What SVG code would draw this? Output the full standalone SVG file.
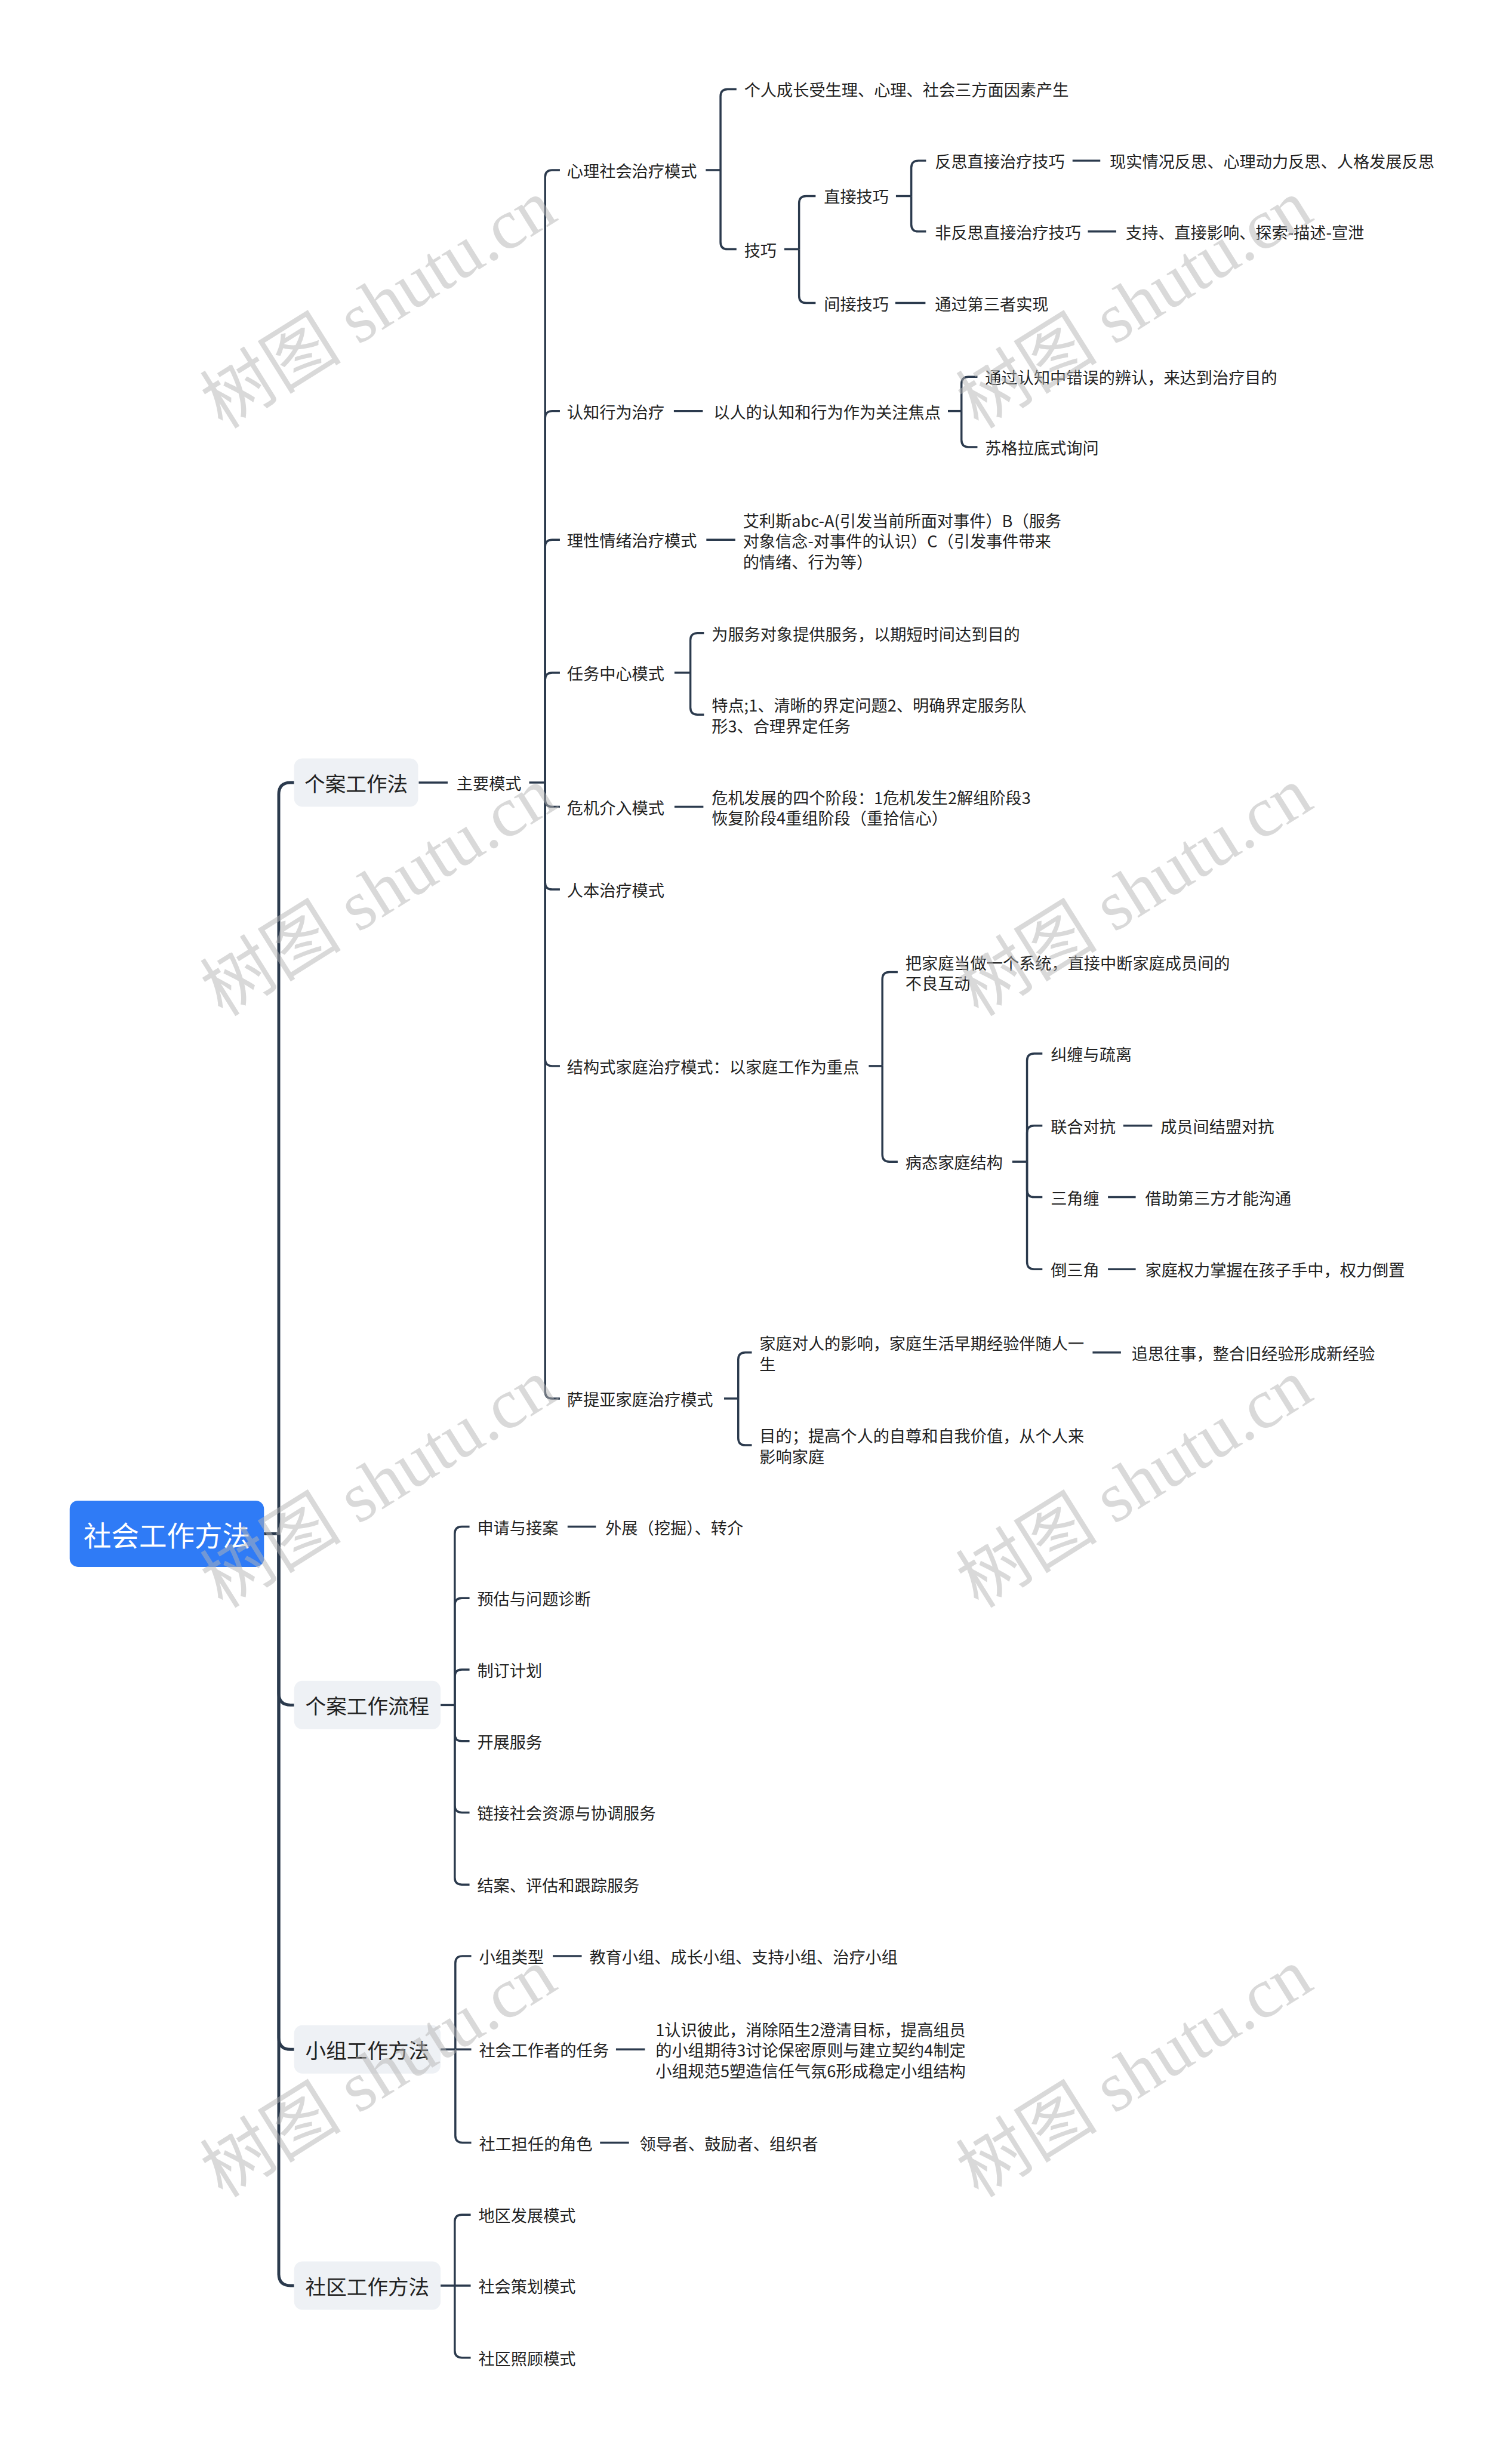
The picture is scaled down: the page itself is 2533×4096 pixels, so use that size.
<svg xmlns="http://www.w3.org/2000/svg" width="2533" height="4096" viewBox="0 0 2533 4096">
<style>
.c{fill:none;stroke:#2b3a4d;stroke-width:3.5}
.tk{fill:none;stroke:#2b3a4d;stroke-width:5}
text,tspan{font-family:"Noto Sans CJK SC","Liberation Sans",sans-serif;dominant-baseline:central}
.t{font-size:27.5px;fill:#222}
.b{font-size:35px;fill:#222;text-anchor:middle}
.r{font-size:47px;fill:#fff;text-anchor:middle}
.box{fill:#eef1f5}
.wm{font-family:"Liberation Serif","Noto Sans CJK SC",serif;font-size:120px;fill:#b5b5b5;opacity:0.5;text-anchor:middle}
</style>
<rect width="2533" height="4096" fill="#fff"/>
<g transform="scale(0.9894)">
<g id="connectors">
<path class="tk" d="M447,2597H472"/>
<path class="tk" d="M472,2597V1345Q472,1325 492,1325H498"/>
<path class="tk" d="M472,2597V2867Q472,2887 492,2887H498"/>
<path class="tk" d="M472,2597V3450Q472,3470 492,3470H498"/>
<path class="tk" d="M472,2597V3850Q472,3870 492,3870H498"/>
<path class="c" d="M709,1325H758"/>
<path class="c" d="M896,1325H923"/>
<path class="c" d="M923,1325V300Q923,288 935,288H948"/>
<path class="c" d="M923,1325V708Q923,696 935,696H948"/>
<path class="c" d="M923,1325V926Q923,914 935,914H948"/>
<path class="c" d="M923,1325V1151Q923,1139 935,1139H948"/>
<path class="c" d="M923,1325V1354Q923,1366 935,1366H948"/>
<path class="c" d="M923,1325V1494Q923,1506 935,1506H948"/>
<path class="c" d="M923,1325V1793Q923,1805 935,1805H948"/>
<path class="c" d="M923,1325V2356Q923,2368 935,2368H948"/>
<path class="c" d="M1195,288H1220"/>
<path class="c" d="M1220,288V163Q1220,151 1232,151H1247"/>
<path class="c" d="M1220,288V410Q1220,422 1232,422H1247"/>
<path class="c" d="M1328,422H1353"/>
<path class="c" d="M1353,422V344Q1353,332 1365,332H1381"/>
<path class="c" d="M1353,422V501Q1353,513 1365,513H1381"/>
<path class="c" d="M1517,332H1543"/>
<path class="c" d="M1543,332V284Q1543,272 1555,272H1568"/>
<path class="c" d="M1543,332V380Q1543,392 1555,392H1568"/>
<path class="c" d="M1816,272H1863"/>
<path class="c" d="M1842,392H1890"/>
<path class="c" d="M1516,513H1567"/>
<path class="c" d="M1141,696H1190"/>
<path class="c" d="M1605,696H1628"/>
<path class="c" d="M1628,696V650Q1628,638 1640,638H1655"/>
<path class="c" d="M1628,696V745Q1628,757 1640,757H1655"/>
<path class="c" d="M1196,914H1245"/>
<path class="c" d="M1142,1139H1169"/>
<path class="c" d="M1169,1139V1084Q1169,1072 1181,1072H1192"/>
<path class="c" d="M1169,1139V1198Q1169,1210 1181,1210H1192"/>
<path class="c" d="M1142,1366H1191"/>
<path class="c" d="M1471,1805H1494"/>
<path class="c" d="M1494,1805V1658Q1494,1646 1506,1646H1520"/>
<path class="c" d="M1494,1805V1955Q1494,1967 1506,1967H1520"/>
<path class="c" d="M1714,1967H1739"/>
<path class="c" d="M1739,1967V1796Q1739,1784 1751,1784H1765"/>
<path class="c" d="M1739,1967V1918Q1739,1906 1751,1906H1765"/>
<path class="c" d="M1739,1967V2015Q1739,2027 1751,2027H1765"/>
<path class="c" d="M1739,1967V2137Q1739,2149 1751,2149H1765"/>
<path class="c" d="M1902,1906H1951"/>
<path class="c" d="M1876,2027H1923"/>
<path class="c" d="M1876,2149H1923"/>
<path class="c" d="M1226,2368H1250"/>
<path class="c" d="M1250,2368V2302Q1250,2290 1262,2290H1273"/>
<path class="c" d="M1250,2368V2435Q1250,2447 1262,2447H1273"/>
<path class="c" d="M1850,2290H1898"/>
<path class="c" d="M746,2887H770"/>
<path class="c" d="M770,2887V2597Q770,2585 782,2585H795"/>
<path class="c" d="M770,2887V2718Q770,2706 782,2706H795"/>
<path class="c" d="M770,2887V2839Q770,2827 782,2827H795"/>
<path class="c" d="M770,2887V2936Q770,2948 782,2948H795"/>
<path class="c" d="M770,2887V3057Q770,3069 782,3069H795"/>
<path class="c" d="M770,2887V3179Q770,3191 782,3191H795"/>
<path class="c" d="M961,2585H1009"/>
<path class="c" d="M746,3470H798"/>
<path class="c" d="M771,3470V3324Q771,3312 783,3312H798"/>
<path class="c" d="M771,3470V3616Q771,3628 783,3628H798"/>
<path class="c" d="M936,3312H985"/>
<path class="c" d="M1043,3470H1092"/>
<path class="c" d="M1016,3628H1065"/>
<path class="c" d="M746,3870H797"/>
<path class="c" d="M770,3870V3762Q770,3750 782,3750H797"/>
<path class="c" d="M770,3870V3980Q770,3992 782,3992H797"/>
</g>
<g id="root"><rect x="118" y="2541" width="329" height="112" rx="14" fill="#2f7bf6"/><text class="r" x="282.5" y="2597">社会工作方法</text></g>
<g id="n-gaf"><rect class="box" x="498" y="1284" width="210" height="82" rx="14"/><text class="b" x="603" y="1325">个案工作法</text></g>
<g id="n-gafl"><rect class="box" x="498" y="2846" width="248" height="82" rx="14"/><text class="b" x="622" y="2887">个案工作流程</text></g>
<g id="n-xz"><rect class="box" x="498" y="3429" width="248" height="82" rx="14"/><text class="b" x="622" y="3470">小组工作方法</text></g>
<g id="n-sq"><rect class="box" x="498" y="3829" width="248" height="82" rx="14"/><text class="b" x="622" y="3870">社区工作方法</text></g>
<g id="n-zyms"><text class="t" x="773" y="1325">主要模式</text></g>
<g id="n-xl"><text class="t" x="960" y="288">心理社会治疗模式</text></g>
<g id="n-xl1"><text class="t" x="1260" y="151">个人成长受生理、心理、社会三方面因素产生</text></g>
<g id="n-jq"><text class="t" x="1260" y="422">技巧</text></g>
<g id="n-zj"><text class="t" x="1395" y="332">直接技巧</text></g>
<g id="n-fs"><text class="t" x="1583" y="272">反思直接治疗技巧</text></g>
<g id="n-fs1"><text class="t" x="1879" y="272">现实情况反思、心理动力反思、人格发展反思</text></g>
<g id="n-ffs"><text class="t" x="1583" y="392">非反思直接治疗技巧</text></g>
<g id="n-ffs1"><text class="t" x="1906" y="392">支持、直接影响、探索-描述-宣泄</text></g>
<g id="n-jj"><text class="t" x="1395" y="513">间接技巧</text></g>
<g id="n-jj1"><text class="t" x="1583" y="513">通过第三者实现</text></g>
<g id="n-rz"><text class="t" x="960" y="696">认知行为治疗</text></g>
<g id="n-rz1"><text class="t" x="1208" y="696">以人的认知和行为作为关注焦点</text></g>
<g id="n-rz2"><text class="t" x="1668" y="638">通过认知中错误的辨认，来达到治疗目的</text></g>
<g id="n-rz3"><text class="t" x="1668" y="757">苏格拉底式询问</text></g>
<g id="n-lx"><text class="t" x="960" y="914">理性情绪治疗模式</text></g>
<g id="n-lx1"><text class="t"><tspan x="1258" y="880">艾利斯abc-A(引发当前所面对事件）B（服务</tspan><tspan x="1258" y="915">对象信念-对事件的认识）C（引发事件带来</tspan><tspan x="1258" y="950">的情绪、行为等）</tspan></text></g>
<g id="n-rw"><text class="t" x="960" y="1139">任务中心模式</text></g>
<g id="n-rw1"><text class="t" x="1205" y="1072">为服务对象提供服务，以期短时间达到目的</text></g>
<g id="n-rw2"><text class="t"><tspan x="1205" y="1193">特点;1、清晰的界定问题2、明确界定服务队</tspan><tspan x="1205" y="1228">形3、合理界定任务</tspan></text></g>
<g id="n-wj"><text class="t" x="960" y="1366">危机介入模式</text></g>
<g id="n-wj1"><text class="t"><tspan x="1205" y="1349">危机发展的四个阶段：1危机发生2解组阶段3</tspan><tspan x="1205" y="1384">恢复阶段4重组阶段（重拾信心）</tspan></text></g>
<g id="n-rb"><text class="t" x="960" y="1506">人本治疗模式</text></g>
<g id="n-jg"><text class="t" x="960" y="1805">结构式家庭治疗模式：以家庭工作为重点</text></g>
<g id="n-jg1"><text class="t"><tspan x="1533" y="1629">把家庭当做一个系统，直接中断家庭成员间的</tspan><tspan x="1533" y="1664">不良互动</tspan></text></g>
<g id="n-bt"><text class="t" x="1533" y="1967">病态家庭结构</text></g>
<g id="n-bt1"><text class="t" x="1779" y="1784">纠缠与疏离</text></g>
<g id="n-bt2"><text class="t" x="1779" y="1906">联合对抗</text></g>
<g id="n-bt2a"><text class="t" x="1965" y="1906">成员间结盟对抗</text></g>
<g id="n-bt3"><text class="t" x="1779" y="2027">三角缠</text></g>
<g id="n-bt3a"><text class="t" x="1939" y="2027">借助第三方才能沟通</text></g>
<g id="n-bt4"><text class="t" x="1779" y="2149">倒三角</text></g>
<g id="n-bt4a"><text class="t" x="1939" y="2149">家庭权力掌握在孩子手中，权力倒置</text></g>
<g id="n-stya"><text class="t" x="960" y="2368">萨提亚家庭治疗模式</text></g>
<g id="n-stya1"><text class="t"><tspan x="1286" y="2273">家庭对人的影响，家庭生活早期经验伴随人一</tspan><tspan x="1286" y="2308">生</tspan></text></g>
<g id="n-stya1a"><text class="t" x="1916" y="2290">追思往事，整合旧经验形成新经验</text></g>
<g id="n-stya2"><text class="t"><tspan x="1286" y="2430">目的；提高个人的自尊和自我价值，从个人来</tspan><tspan x="1286" y="2465">影响家庭</tspan></text></g>
<g id="n-lc1"><text class="t" x="808" y="2585">申请与接案</text></g>
<g id="n-lc1a"><text class="t" x="1025" y="2585">外展（挖掘）、转介</text></g>
<g id="n-lc2"><text class="t" x="808" y="2706">预估与问题诊断</text></g>
<g id="n-lc3"><text class="t" x="808" y="2827">制订计划</text></g>
<g id="n-lc4"><text class="t" x="808" y="2948">开展服务</text></g>
<g id="n-lc5"><text class="t" x="808" y="3069">链接社会资源与协调服务</text></g>
<g id="n-lc6"><text class="t" x="808" y="3191">结案、评估和跟踪服务</text></g>
<g id="n-xz1"><text class="t" x="811" y="3312">小组类型</text></g>
<g id="n-xz1a"><text class="t" x="998" y="3312">教育小组、成长小组、支持小组、治疗小组</text></g>
<g id="n-xz2"><text class="t" x="811" y="3470">社会工作者的任务</text></g>
<g id="n-xz2a"><text class="t"><tspan x="1110" y="3435">1认识彼此，消除陌生2澄清目标，提高组员</tspan><tspan x="1110" y="3470">的小组期待3讨论保密原则与建立契约4制定</tspan><tspan x="1110" y="3505">小组规范5塑造信任气氛6形成稳定小组结构</tspan></text></g>
<g id="n-xz3"><text class="t" x="811" y="3628">社工担任的角色</text></g>
<g id="n-xz3a"><text class="t" x="1083" y="3628">领导者、鼓励者、组织者</text></g>
<g id="n-sq1"><text class="t" x="810" y="3750">地区发展模式</text></g>
<g id="n-sq2"><text class="t" x="810" y="3870">社会策划模式</text></g>
<g id="n-sq3"><text class="t" x="810" y="3992">社区照顾模式</text></g>
<g id="watermarks">
<text class="wm" transform="rotate(-32 641 515)" x="641" y="515">树图 shutu.cn</text>
<text class="wm" transform="rotate(-32 1921 515)" x="1921" y="515">树图 shutu.cn</text>
<text class="wm" transform="rotate(-32 641 1510)" x="641" y="1510">树图 shutu.cn</text>
<text class="wm" transform="rotate(-32 1921 1510)" x="1921" y="1510">树图 shutu.cn</text>
<text class="wm" transform="rotate(-32 641 2512)" x="641" y="2512">树图 shutu.cn</text>
<text class="wm" transform="rotate(-32 1921 2512)" x="1921" y="2512">树图 shutu.cn</text>
<text class="wm" transform="rotate(-32 641 3510)" x="641" y="3510">树图 shutu.cn</text>
<text class="wm" transform="rotate(-32 1921 3510)" x="1921" y="3510">树图 shutu.cn</text>
</g>
</g>
</svg>
